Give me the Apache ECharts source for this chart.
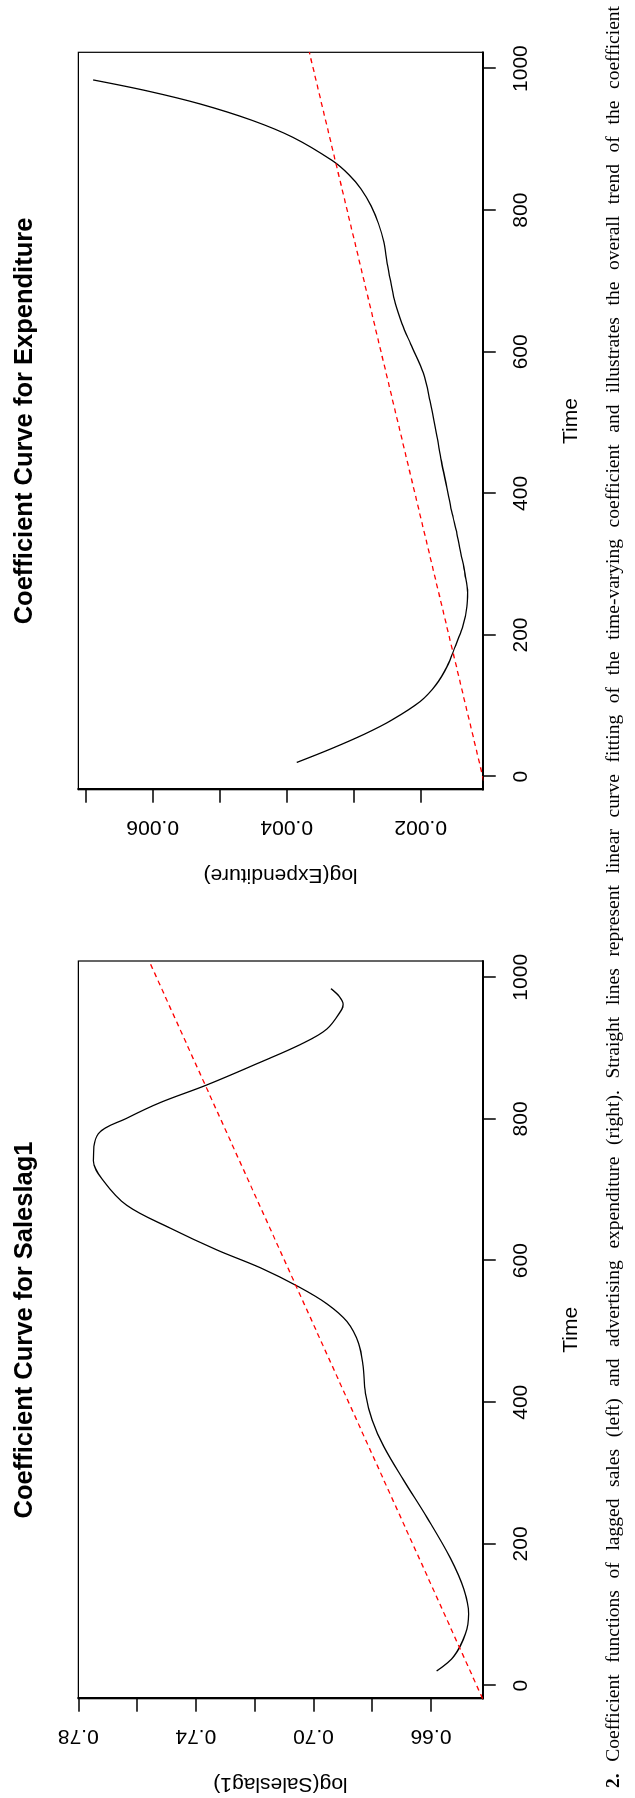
<!DOCTYPE html>
<html>
<head>
<meta charset="utf-8">
<script src="https://cdn.jsdelivr.net/npm/echarts/dist/echarts.min.js"></script>
<style>
  html, body { margin: 0; padding: 0; background: #fff; overflow: hidden; width: 635px; height: 1798px; }
  /* the figure is printed sideways: draw it landscape, then turn it */
  #chart { position: absolute; left: 0; top: 0; width: 1798px; height: 635px;
           transform-origin: 0 0; transform: translate(0px, 1798px) rotate(-90deg); }
</style>
</head>
<body>
<div id="chart"></div>
<script>
// --- data ---
const timeTicks = [0, 200, 400, 600, 800, 1000];

const saleTime = [20.6, 41.4, 73, 101, 136, 180, 237, 290, 338, 375, 413, 451, 483, 514, 539, 563, 590, 615, 646, 678, 713, 741, 779, 801, 823, 848, 880, 905, 927, 955, 962, 973, 984];
const saleCoef = [0.6581, 0.6522, 0.6483, 0.6472, 0.6488, 0.6534, 0.6613, 0.6693, 0.6761, 0.6800, 0.6823, 0.6831, 0.6846, 0.6886, 0.6954, 0.7050, 0.7181, 0.7328, 0.7488, 0.7635, 0.7715, 0.7749, 0.7732, 0.7635, 0.7522, 0.7363, 0.7181, 0.7045, 0.6954, 0.6903, 0.6899, 0.6912, 0.6940];
const saleTrend = [[-18.5, 0.6424], [1023, 0.7559]];
const saleTicks = [0.66, 0.68, 0.70, 0.72, 0.74, 0.76, 0.78];
const saleLabels = [0.66, 0.70, 0.74, 0.78];

const expTime = [20, 40, 60, 80, 106, 130, 155, 185, 210, 240, 260, 286, 315, 343, 375, 408, 445, 481, 530, 570, 611, 640, 668, 700, 725, 755, 781, 806, 830, 850, 870, 903, 927, 950, 968, 984];
const expCoef = [0.00385, 0.00332, 0.00284, 0.00243, 0.00201, 0.00177, 0.00161, 0.00148, 0.00138, 0.00131, 0.00130, 0.001339, 0.00140, 0.00146, 0.00154, 0.00161, 0.00169, 0.00176, 0.00186, 0.00196, 0.00215, 0.00228, 0.00238, 0.00245, 0.00250, 0.00255, 0.00263, 0.00274, 0.00289, 0.00307, 0.00332, 0.00391, 0.00452, 0.00529, 0.00606, 0.00689];
const expTrend = [[-18.4, 0.001028], [1023.2, 0.003663]];
const expTicks = [0.002, 0.003, 0.004, 0.005, 0.006, 0.007];
const expLabels = [0.002, 0.004, 0.006];

const caption = '2. Coefficient functions of lagged sales (left) and advertising expenditure (right). Straight lines represent linear curve fitting of the time-varying coefficient and illustrates the overall trend of the coefficient';

const sans = '"Liberation Sans", Arial, sans-serif';
const black = '#000';

function timeAxis(gi) {
  return {
    type: 'value', gridIndex: gi, min: -18.5, max: 1023,
    name: 'Time', nameLocation: 'middle', nameGap: 78,
    nameTextStyle: { fontSize: 21, color: black, fontFamily: sans },
    axisLine: { onZero: false, lineStyle: { color: black, width: 2 } },
    axisTick: { length: 13, customValues: timeTicks, lineStyle: { color: black, width: 1.5 } },
    axisLabel: { customValues: timeTicks, margin: 28, fontSize: 21, color: black, fontFamily: sans,
                 formatter: v => String(v) },
    splitLine: { show: false }
  };
}

function coefAxis(gi, name, min, max, ticks, labels, digits) {
  return {
    type: 'value', gridIndex: gi, min: min, max: max,
    name: name, nameLocation: 'middle', nameGap: 75, nameRotate: 90,
    nameTextStyle: { fontSize: 21, color: black, fontFamily: sans },
    axisLine: { onZero: false, lineStyle: { color: black, width: 2 } },
    axisTick: { length: 13, customValues: ticks, lineStyle: { color: black, width: 1.5 } },
    axisLabel: { customValues: labels, rotate: 90, margin: 27, fontSize: 21, color: black, fontFamily: sans,
                 formatter: v => v.toFixed(digits) },
    splitLine: { show: false }
  };
}

// caption, spread over its line like the printed (justified) one
const capFont = '19.5px "Liberation Serif", "Times New Roman", serif';
const capBold = 'bold ' + capFont;
const capStart = 10, capEnd = 1792;
const words = caption.split(' ');
const ctx = document.createElement('canvas').getContext('2d');
const wWidth = words.map((w, i) => { ctx.font = i === 0 ? capBold : capFont; return ctx.measureText(w).width; });
const gap = (capEnd - capStart - wWidth.reduce((a, b) => a + b, 0)) / (words.length - 1);
let cx = capStart;
const captionEls = words.map((w, i) => {
  const el = { type: 'text', x: cx, y: 613.5, silent: true,
               style: { text: w, font: i === 0 ? capBold : capFont, fill: black, verticalAlign: 'middle' } };
  cx += wWidth[i] + gap;
  return el;
});

const titleStyle = t => ({ text: t, fill: black, align: 'center', verticalAlign: 'middle',
                           font: 'bold 25.5px ' + sans });

const option = {
  backgroundColor: '#fff',
  animation: false,
  grid: [
    { left: 99.3, top: 78.3, width: 737.7, height: 404.4, show: true, borderColor: black, borderWidth: 1.2 },
    { left: 1008.3, top: 78.3, width: 737.4, height: 404.4, show: true, borderColor: black, borderWidth: 1.2 }
  ],
  xAxis: [timeAxis(0), timeAxis(1)],
  yAxis: [
    coefAxis(0, 'log(Saleslag1)', 0.64239, 0.78, saleTicks, saleLabels, 2),
    coefAxis(1, 'log(Expenditure)', 0.001075, 0.00711, expTicks, expLabels, 3)
  ],
  graphic: [
    { type: 'text', x: 468, y: 25, silent: true, style: titleStyle('Coefficient Curve for Saleslag1') },
    { type: 'text', x: 1377, y: 25, silent: true, style: titleStyle('Coefficient Curve for Expenditure') }
  ].concat(captionEls),
  series: [
    { type: 'line', xAxisIndex: 0, yAxisIndex: 0, data: saleTime.map((t, i) => [t, saleCoef[i]]),
      smooth: 0.35, showSymbol: false, lineStyle: { color: black, width: 1.3 } },
    { type: 'line', xAxisIndex: 0, yAxisIndex: 0, data: saleTrend, showSymbol: false,
      lineStyle: { color: '#ff0000', width: 1.3, type: [5, 4] } },
    { type: 'line', xAxisIndex: 1, yAxisIndex: 1, data: expTime.map((t, i) => [t, expCoef[i]]),
      smooth: 0.35, showSymbol: false, lineStyle: { color: black, width: 1.3 } },
    { type: 'line', xAxisIndex: 1, yAxisIndex: 1, data: expTrend, showSymbol: false,
      lineStyle: { color: '#ff0000', width: 1.3, type: [5, 4] } }
  ]
};

const myChart = echarts.init(document.getElementById('chart'));
myChart.setOption(option);
</script>
</body>
</html>
